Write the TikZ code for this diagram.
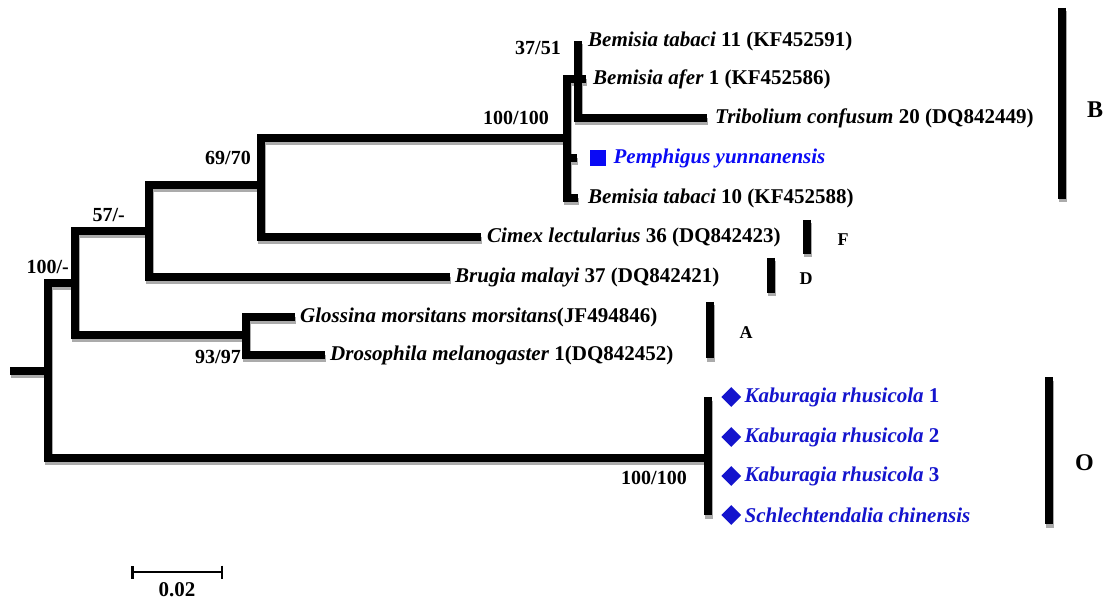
\documentclass[tikz,border=0pt]{standalone}
\usepackage{fontspec}
\setmainfont{Liberation Serif}
\usepackage{xcolor}
\usetikzlibrary{arrows.meta,positioning,shapes.geometric,calc}

\definecolor{sqblue}{RGB}{10,10,245}
\definecolor{diablue}{RGB}{20,20,205}

\begin{document}
\begin{tikzpicture}[
  x=1pt, y=-1pt,
  node distance=6pt,
  every node/.style={inner sep=0pt, font=\fontsize{21}{24}\selectfont\bfseries},
  br/.style={line width=7.5pt, line join=miter},
  brshade/.style={br, draw=black!33},
  boot/.style={anchor=east, font=\fontsize{20}{24}\selectfont\bfseries},
  sq/.style={fill=sqblue, minimum size=16pt},
  dia/.style={diamond, fill=diablue, minimum size=20pt},
  grp/.style={line width=8pt},
  grplab/.style={font=\fontsize{18}{22}\selectfont\bfseries},
  biglab/.style={font=\fontsize{24}{28}\selectfont\bfseries},
  sbar/.style={line width=2.5pt, {Bar[width=13pt]}-{Bar[width=13pt]}}
]
\useasboundingbox (0,0) rectangle (1120,604);

% inner nodes of the tree
\coordinate (stub) at (10,371);
\coordinate (root) at (48,371);
\coordinate (n100) at (75,283);
\coordinate (n57) at (149,231);
\coordinate (n69) at (261,185);
\coordinate (nB) at (567,138);
\coordinate (n37) at (578,79);
\coordinate (nA) at (246,335);
\coordinate (nO) at (708,458);

% tips
\coordinate (tBt11) at (578,41);
\coordinate (tBa1) at (586,79);
\coordinate (tTc) at (707,118);
\coordinate (tPy) at (577,158);
\coordinate (tBt10) at (578,198);
\coordinate (tCl) at (481,237);
\coordinate (tBm) at (450,277);
\coordinate (tGm) at (295,317);
\coordinate (tDm) at (325,355);
\coordinate (tK1) at (708,397);
\coordinate (tK2) at (708,437);
\coordinate (tK3) at (708,476);
\coordinate (tSc) at (708,515);

% group bars
\coordinate (Btop) at (1062,8);   \coordinate (Bbot) at (1062,199);
\coordinate (Ftop) at (807,220);  \coordinate (Fbot) at (807,254);
\coordinate (Dtop) at (771,258);  \coordinate (Dbot) at (771,293);
\coordinate (Atop) at (710,302);  \coordinate (Abot) at (710,358);
\coordinate (Otop) at (1049,377); \coordinate (Obot) at (1049,524);

\def\edges{stub/root, root/n100, root/nO, n100/n57, n100/nA,
  n57/n69, n57/tBm, n69/nB, n69/tCl, nB/n37, nB/tPy, nB/tBt10,
  n37/tBt11, n37/tBa1, n37/tTc, nA/tGm, nA/tDm,
  nO/tK1, nO/tK2, nO/tK3, nO/tSc}
\def\bars{B,F,D,A,O}

% grey shadow
\begin{scope}[transform canvas={xshift=1pt, yshift=-3.5pt}]
  \foreach \a/\b in \edges \draw[brshade] (\a) |- (\b);
  \foreach \g in \bars \draw[grp, black!33] (\g top) -- (\g bot);
\end{scope}

% branches
\foreach \a/\b in \edges \draw[br] (\a) |- (\b);
\foreach \g in \bars \draw[grp] (\g top) -- (\g bot);

% tip labels
\node[right=10pt of tBt11] (lBt11) {\textit{Bemisia tabaci} 11 (KF452591)};
\node[right=7pt of tBa1] (lBa1) {\textit{Bemisia afer} 1 (KF452586)};
\node[right=8pt of tTc] (lTc) {\textit{Tribolium confusum} 20 (DQ842449)};
\node[sq, right=13pt of tPy] (sqPy) {};
\node[right=7pt of sqPy, text=sqblue] (lPy) {\textit{Pemphigus yunnanensis}};
\node[right=10pt of tBt10] (lBt10) {\textit{Bemisia tabaci} 10 (KF452588)};
\node[right=6pt of tCl] (lCl) {\textit{Cimex lectularius} 36 (DQ842423)};
\node[right=5pt of tBm] (lBm) {\textit{Brugia malayi} 37 (DQ842421)};
\node[right=5pt of tGm] (lGm) {\textit{Glossina morsitans morsitans}(JF494846)};
\node[right=5pt of tDm] (lDm) {\textit{Drosophila melanogaster} 1(DQ842452)};
\node[dia, right=13pt of tK1] (dK1) {};
\node[right=3pt of dK1, text=diablue] (lK1) {\textit{Kaburagia rhusicola} 1};
\node[dia, right=13pt of tK2] (dK2) {};
\node[right=3pt of dK2, text=diablue] (lK2) {\textit{Kaburagia rhusicola} 2};
\node[dia, right=13pt of tK3] (dK3) {};
\node[right=3pt of dK3, text=diablue] (lK3) {\textit{Kaburagia rhusicola} 3};
\node[dia, right=13pt of tSc] (dSc) {};
\node[right=3pt of dSc, text=diablue] (lSc) {\textit{Schlechtendalia chinensis}};

% bootstrap values
\node[boot] (b37) at (561,48) {37/51};
\node[boot] (bB) at (549,118) {100/100};
\node[boot] (b69) at (251,158) {69/70};
\node[boot] (b57) at (125,215) {57/-};
\node[boot] (b100) at (69,267) {100/-};
\node[boot] (bA) at (241,357) {93/97};
\node[boot] (bO) at (687,478) {100/100};

% group labels
\node[biglab, right=25pt of {$(Btop)!0.53!(Bbot)$}] (gB) {B};
\node[grplab] (gF) at (843,240) {F};
\node[grplab] (gD) at (806,279) {D};
\node[grplab] (gA) at (746,333) {A};
\node[biglab, right=26pt of {$(Otop)!0.58!(Obot)$}] (gO) {O};

% scale bar
\coordinate (sbL) at (131,572);
\coordinate (sbR) at (223,572);
\draw[sbar] (sbL) -- (sbR) node[midway, below=9pt] (sbtxt) {0.02};
\end{tikzpicture}
\end{document}
